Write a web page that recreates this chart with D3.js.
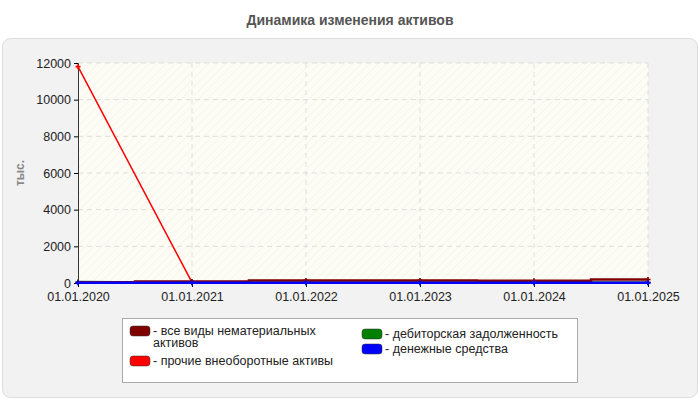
<!DOCTYPE html><html><head><meta charset="utf-8"><script src="https://cdn.jsdelivr.net/npm/d3@7"></script>
<style>body{margin:0;background:#fff;font-family:Arial,"Liberation Sans",sans-serif}</style></head><body>
<svg id="c" width="700" height="400"></svg>
<script>
const dates=["01.01.2020","01.01.2021","01.01.2022","01.01.2023","01.01.2024","01.01.2025"];
const yTicks=[0,2000,4000,6000,8000,10000,12000];
const seriesNames=["все виды нематериальных активов","прочие внеоборотные активы","дебиторская задолженность","денежные средства"];
const colors=["#800000","#ff0000","#008000","#0000ff"];
const intangible=[40,80,140,140,120,190];
const otherNonCurrent=[11800,30,30,30,30,30];
const receivables=[50,20,20,20,20,20];
const cash=[10,10,10,10,10,10];
const svg=d3.select("#c");
svg.append("text").attr("x",350).attr("y",25).attr("text-anchor","middle").attr("font-size",14).attr("font-weight","bold").attr("fill","#555").text("Динамика изменения активов");
svg.append("rect").attr("x",2.5).attr("y",38.5).attr("width",695).attr("height",359).attr("rx",8).attr("fill","#f2f2f2").attr("stroke","#ddd");
const defs=svg.append("defs");
const p=defs.append("pattern").attr("id","h").attr("width",6).attr("height",6).attr("patternUnits","userSpaceOnUse").attr("patternTransform","rotate(45)");
p.append("rect").attr("width",6).attr("height",6).attr("fill","#fdfdf6");
p.append("line").attr("x1",0).attr("y1",0).attr("x2",0).attr("y2",6).attr("stroke","#eeeeea").attr("stroke-width",1);
const x=d3.scalePoint().domain(dates).range([78,648]);
const y=d3.scaleLinear().domain([0,12000]).range([283,63]);
svg.append("rect").attr("x",78).attr("y",63).attr("width",570).attr("height",220).attr("fill","url(#h)");
const g=svg.append("g");
yTicks.slice(1).forEach(t=>g.append("line").attr("x1",78).attr("x2",648).attr("y1",y(t)).attr("y2",y(t)).attr("stroke","#ddd").attr("stroke-dasharray","5,4"));
dates.slice(1).forEach(d=>g.append("line").attr("x1",x(d)).attr("x2",x(d)).attr("y1",63).attr("y2",283).attr("stroke","#ddd").attr("stroke-dasharray","5,4"));
svg.append("g").attr("transform","translate(78,0)").call(d3.axisLeft(y).tickValues(yTicks).tickSize(4).tickFormat(d3.format("d"))).call(a=>{a.selectAll("text").attr("font-size",12.5).attr("fill","#222").attr("font-family","Arial");a.select(".domain").attr("stroke","#333")});
svg.append("g").attr("transform","translate(0,283)").call(d3.axisBottom(x).tickSize(4)).call(a=>{a.selectAll("text").attr("font-size",12.5).attr("fill","#222").attr("font-family","Arial").attr("dy","0.9em");a.select(".domain").attr("stroke","#333")});
svg.append("text").attr("transform","translate(24,173) rotate(-90)").attr("text-anchor","middle").attr("font-size",12).attr("font-weight","bold").attr("fill","#888").text("тыс.");
const data=[[intangible,d3.curveStep],[otherNonCurrent,d3.curveLinear],[receivables,d3.curveLinear],[cash,d3.curveLinear]];
const order=[1,2,0,3];
order.forEach(i=>{const vals=data[i][0];
 const line=d3.line().x((d,j)=>x(dates[j])).y(d=>y(d)).curve(data[i][1]);
 svg.append("path").attr("d",line(vals)).attr("fill","none").attr("stroke",colors[i]).attr("stroke-width",i==1?1.5:2.5);
 vals.forEach((v,j)=>svg.append("path").attr("d",d3.symbol(d3.symbolCross,14)()).attr("transform",`translate(${x(dates[j])},${y(v)})`).attr("fill",colors[i]));
});
const L=svg.append("g");
L.append("rect").attr("x",122.5).attr("y",318.5).attr("width",455).attr("height",64).attr("fill","#fff").attr("stroke","#aaa");
const pos=[[130,331,["все виды нематериальных","активов"]],[130,361,["прочие внеоборотные активы"]],[362,334,["дебиторская задолженность"]],[362,349,["денежные средства"]]];
pos.forEach((pp,i)=>{L.append("rect").attr("x",pp[0]).attr("y",pp[1]-5).attr("width",20).attr("height",10).attr("rx",3).attr("fill",colors[i]).attr("stroke","#333").attr("stroke-width",0.5);
 pp[2].forEach((t,k)=>L.append("text").attr("x",pp[0]+23).attr("y",pp[1]+4+k*12).attr("font-size",12.5).attr("fill","#222").text((k==0?"- ":"")+t));});
</script></body></html>
